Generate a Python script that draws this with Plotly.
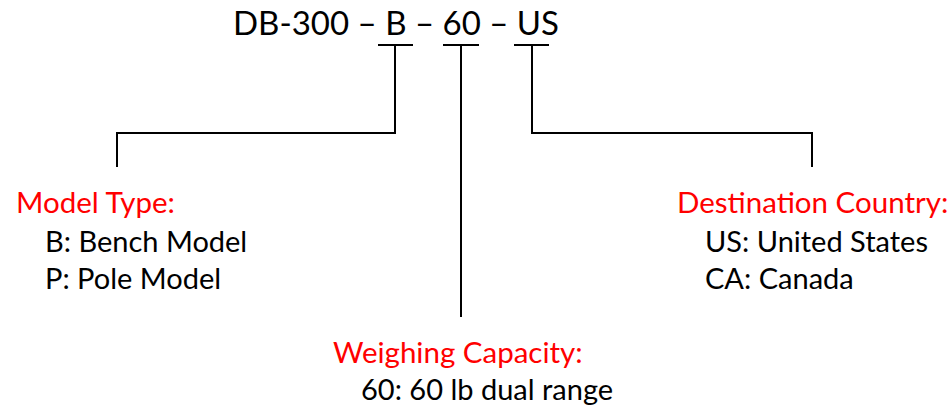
import plotly.graph_objects as go

# Part-number pieces and their legend texts
title_text = "DB-300 – B – 60 – US"
headings = ["Model Type:", "Weighing Capacity:", "Destination Country:"]
details = [
    ["B: Bench Model", "P: Pole Model"],
    ["60: 60 lb dual range"],
    ["US: United States", "CA: Canada"],
]

# Connector paths (pixel coordinates of the diagram canvas)
conn_model_x = [378, 413, None, 395, 395, 117, 117]
conn_model_y = [45, 45, None, 45, 133, 133, 167]
conn_cap_x = [443, 479, None, 461, 461]
conn_cap_y = [45, 45, None, 45, 317]
conn_dest_x = [514, 549, None, 532, 532, 812, 812]
conn_dest_y = [45, 45, None, 45, 133, 133, 167]

W, H = 948, 406
FONT = "Lato"

fig = go.Figure()
for xs, ys in [(conn_model_x, conn_model_y), (conn_cap_x, conn_cap_y), (conn_dest_x, conn_dest_y)]:
    fig.add_trace(go.Scatter(x=xs, y=ys, mode="lines",
                             line=dict(color="black", width=2),
                             hoverinfo="skip", showlegend=False))

ann = []
ann.append(dict(x=396, y=22, text=title_text, xanchor="center", yanchor="middle",
                font=dict(family=FONT, size=33, color="black")))

head_pos = [(14, 201), (331, 351), (675, 201)]
detail_x = [43, 359, 703]
detail_y = [[240, 277], [388], [240, 277]]
for h, (hx, hy), dl, dx, dys in zip(headings, head_pos, details, detail_x, detail_y):
    ann.append(dict(x=hx, y=hy, text=h, xanchor="left", yanchor="middle",
                    font=dict(family=FONT, size=29.5, color="#FF0000")))
    for t, ty in zip(dl, dys):
        ann.append(dict(x=dx, y=ty, text=t, xanchor="left", yanchor="middle",
                        font=dict(family=FONT, size=29, color="black")))

for a in ann:
    a.update(xref="x", yref="y", showarrow=False)

fig.update_layout(
    width=W, height=H,
    margin=dict(l=0, r=0, t=0, b=0),
    paper_bgcolor="white", plot_bgcolor="white",
    xaxis=dict(range=[0, W], visible=False, fixedrange=True),
    yaxis=dict(range=[H, 0], visible=False, fixedrange=True),
    annotations=ann,
)
fig.write_html("out.html", config={"displayModeBar": False},
               post_script="document.body.style.margin='0';document.body.style.overflow='hidden';")
